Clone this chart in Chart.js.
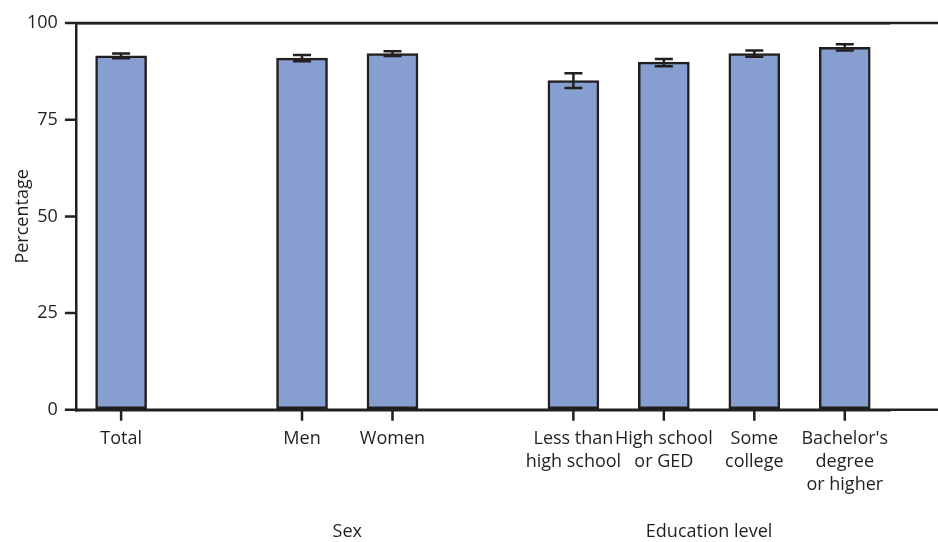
<!DOCTYPE html>
<html>
<head>
<meta charset="utf-8">
<script src="https://cdn.jsdelivr.net/npm/chart.js@4/dist/chart.umd.min.js"></script>
<style>
  body { margin: 0; background: #fff; }
  #wrap { width: 938px; height: 542px; position: relative; }
</style>
</head>
<body>
<div id="wrap"><canvas id="chart"></canvas></div>
<script>
// blank entries are gaps between the groups
const categories = [
  'Total', '', 'Men', 'Women', '',
  ['Less than', 'high school'], ['High school', 'or GED'], ['Some', 'college'], ["Bachelor's", 'degree', 'or higher']
]
const values = [91.5, null, 90.9, 92.1, null, 85.1, 89.9, 92.1, 93.7]
const lower  = [90.9, null, 90.1, 91.5, null, 83.2, 88.8, 91.3, 92.9]
const upper  = [92.1, null, 91.7, 92.7, null, 87.0, 90.7, 92.9, 94.5]
const yTicks = [0, 25, 50, 75, 100]
const groupNames = ['Sex', 'Education level']
const groupIndexes = [[2, 3], [5, 6, 7, 8]]

const ink = '#231f20'
const font = '"Open Sans", sans-serif'

const errorBars = {
  id: 'errorBars',
  afterDatasetsDraw(chart) {
    const { ctx, scales: { x, y } } = chart
    ctx.save()
    ctx.strokeStyle = ink
    ctx.lineWidth = 2.5
    values.forEach((v, i) => {
      if (v == null) return
      const px = x.getPixelForValue(i)
      const lo = y.getPixelForValue(lower[i])
      const hi = y.getPixelForValue(upper[i])
      ctx.beginPath()
      ctx.moveTo(px, lo); ctx.lineTo(px, hi)
      ctx.moveTo(px - 9, lo); ctx.lineTo(px + 9, lo)
      ctx.moveTo(px - 9, hi); ctx.lineTo(px + 9, hi)
      ctx.stroke()
    })
    ctx.restore()
  }
}

// tick marks, the 0 and 100 lines running to the right edge, and group titles
const extras = {
  id: 'extras',
  afterDraw(chart) {
    const { ctx, chartArea, scales: { x, y } } = chart
    ctx.save()
    ctx.strokeStyle = ink
    ctx.lineWidth = 2.5
    ctx.beginPath()
    ;[0, 100].forEach(v => {
      const py = y.getPixelForValue(v)
      ctx.moveTo(chartArea.left - 11, py)
      ctx.lineTo(chart.width, py)
    })
    yTicks.forEach(v => {
      const py = y.getPixelForValue(v)
      ctx.moveTo(chartArea.left - 11, py)
      ctx.lineTo(chartArea.left, py)
    })
    categories.forEach((c, i) => {
      if (c === '') return
      const px = x.getPixelForValue(i)
      ctx.moveTo(px, chartArea.bottom)
      ctx.lineTo(px, chartArea.bottom + 11)
    })
    ctx.stroke()

    ctx.fillStyle = ink
    ctx.font = '18px ' + font
    ctx.textAlign = 'center'
    ctx.textBaseline = 'middle'
    groupNames.forEach((name, g) => {
      const idx = groupIndexes[g]
      const a = x.getPixelForValue(idx[0])
      const b = x.getPixelForValue(idx[idx.length - 1])
      ctx.fillText(name, (a + b) / 2, 532)
    })
    ctx.restore()
  }
}

new Chart('chart', {
  type: 'bar',
  data: {
    labels: categories,
    datasets: [{
      data: values,
      backgroundColor: '#879fd0',
      borderColor: ink,
      borderWidth: 2.5,
      borderSkipped: false,
      barThickness: 51
    }]
  },
  options: {
    responsive: true,
    maintainAspectRatio: false,
    animation: false,
    layout: { padding: { top: 23, right: 48, bottom: 39, left: 10 } },
    plugins: {
      legend: { display: false },
      tooltip: { enabled: false }
    },
    scales: {
      x: {
        offset: true,
        border: { color: ink, width: 2.5 },
        grid: {
          offset: false,
          drawOnChartArea: false,
          tickLength: 11,
          tickColor: 'rgba(0,0,0,0)'
        },
        ticks: {
          autoSkip: false,
          maxRotation: 0,
          color: ink,
          padding: 6,
          font: { family: font, size: 18, lineHeight: 1.3 }
        }
      },
      y: {
        min: 0,
        max: 100,
        afterBuildTicks: s => { s.ticks = yTicks.map(v => ({ value: v })) },
        border: { color: ink, width: 2.5 },
        grid: {
          color: c => c.tick && c.tick.value === 100 ? ink : 'rgba(0,0,0,0)',
          lineWidth: 2.5,
          tickLength: 11,
          tickColor: 'rgba(0,0,0,0)'
        },
        ticks: {
          color: ink,
          padding: 7,
          font: { family: font, size: 18 }
        },
        title: {
          display: true,
          text: 'Percentage',
          color: ink,
          padding: { top: 4, bottom: -12 },
          font: { family: font, size: 18, lineHeight: 1 }
        }
      }
    }
  },
  plugins: [errorBars, extras]
})
</script>
</body>
</html>
